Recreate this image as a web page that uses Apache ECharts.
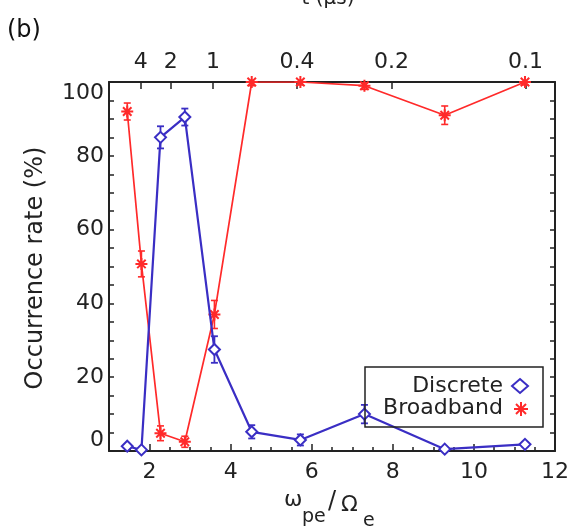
<!DOCTYPE html>
<html><head><meta charset="utf-8">
<script src="https://cdn.jsdelivr.net/npm/echarts@6/dist/echarts.min.js"></script>
<style>html,body{margin:0;padding:0;background:#fff}#c{width:572px;height:527px}</style>
</head><body><div id="c"></div>
<script>
// ---- data ----
const ratio = [1.45, 1.8, 2.27, 2.87, 3.6, 4.52, 5.72, 7.3, 9.28, 11.26];
const discrete = [1.3, 0.3, 85, 90.5, 27.5, 5.2, 3.0, 10, 0.5, 1.8];
const discreteErr = [0.5, 0.5, 3, 2.3, 3.6, 1.8, 1.5, 2.5, 0.5, 0.6];
const broadband = [92, 50.7, 4.8, 2.5, 37, 100, 100, 99, 91, 100];
const broadbandErr = [2.3, 3.5, 2, 1.5, 3.8, 1, 0.8, 1, 2.5, 0.8];
const xMajorTicks = [2, 4, 6, 8, 10, 12];
const tValues = [4, 2, 1, 0.4, 0.2, 0.1];
const tLabels = ['4', '2', '1', '0.4', '0.2', '0.1'];
const tConst = 12.7; // t = tConst / (wpe/Omega_e)^2
// ---------------

const FONT = 'DejaVu Sans';
const AX = '#222';
const BLUE = '#3a2ec4';
const RED = '#ff2a2a';
const tPos = tValues.map(t => Math.sqrt(tConst / t));
const tMap = {};
tPos.forEach((p, i) => { tMap[p.toFixed(5)] = tLabels[i]; });

const asteriskPath = 'path://M6,0L6,12M0,6L12,6M1.76,1.76L10.24,10.24M1.76,10.24L10.24,1.76';

function errSeries(vals, errs, color, width) {
  return {
    type: 'custom', xAxisIndex: 0, yAxisIndex: 0, z: 3, silent: true, clip: true,
    encode: { x: 0, y: 1 },
    data: ratio.map((x, i) => [x, vals[i], errs[i]]),
    renderItem(params, api) {
      const x = api.value(0), y = api.value(1), e = api.value(2);
      const p1 = api.coord([x, y + e]), p2 = api.coord([x, y - e]);
      const c = 3.5;
      const st = { stroke: color, lineWidth: width };
      return { type: 'group', children: [
        { type: 'line', shape: { x1: p1[0], y1: p1[1], x2: p2[0], y2: p2[1] }, style: st },
        { type: 'line', shape: { x1: p1[0] - c, y1: p1[1], x2: p1[0] + c, y2: p1[1] }, style: st },
        { type: 'line', shape: { x1: p2[0] - c, y1: p2[1], x2: p2[0] + c, y2: p2[1] }, style: st }
      ]};
    }
  };
}

const chart = echarts.init(document.getElementById('c'), null, { renderer: 'canvas' });
const labelStyle = { fontFamily: FONT, fontSize: 22, color: AX };

chart.setOption({
  animation: false,
  backgroundColor: '#fff',
  grid: { left: 109, right: 15, top: 82, bottom: 76, containLabel: false },
  xAxis: [
    { type: 'value', position: 'bottom', min: 1, max: 12, interval: 0.5,
      axisLine: { show: true, onZero: false, lineStyle: { color: AX, width: 2 } },
      axisTick: { show: true, inside: true, length: 4, lineStyle: { color: AX, width: 1.5 } },
      axisLabel: Object.assign({ margin: 10, formatter: v => (Math.abs(v % 2) < 1e-9 ? String(v) : '') }, labelStyle),
      splitLine: { show: false } },
    { type: 'value', position: 'bottom', min: 1, max: 12,
      axisLine: { show: false, onZero: false },
      axisTick: { show: true, inside: true, length: 7, customValues: xMajorTicks, lineStyle: { color: AX, width: 1.5 } },
      axisLabel: { show: false }, splitLine: { show: false } },
    { type: 'value', position: 'top', min: 1, max: 12,
      axisLine: { show: true, onZero: false, lineStyle: { color: AX, width: 2 } },
      axisTick: { show: true, inside: true, length: 7, customValues: tPos, lineStyle: { color: AX, width: 1.5 } },
      axisLabel: Object.assign({ margin: 9, customValues: tPos, formatter: v => tMap[Number(v).toFixed(5)] || '' }, labelStyle),
      splitLine: { show: false } }
  ],
  yAxis: [
    { type: 'value', position: 'left', min: 0, max: 100, interval: 5,
      axisLine: { show: true, onZero: false, lineStyle: { color: AX, width: 2 } },
      axisTick: { show: true, inside: true, length: 5, lineStyle: { color: AX, width: 1.5 } },
      axisLabel: Object.assign({ margin: 5, verticalAlignMinLabel: 'bottom', verticalAlignMaxLabel: 'top',
        formatter: v => (v % 20 === 0 ? String(v) : '') }, labelStyle),
      splitLine: { show: false } },
    { type: 'value', position: 'right', min: 0, max: 100, interval: 5,
      axisLine: { show: true, onZero: false, lineStyle: { color: AX, width: 2 } },
      axisTick: { show: true, inside: true, length: 5, lineStyle: { color: AX, width: 1.5 } },
      axisLabel: { show: false }, splitLine: { show: false } }
  ],
  series: [
    { name: 'Broadband', type: 'line', xAxisIndex: 0, yAxisIndex: 0, z: 2,
      data: ratio.map((x, i) => [x, broadband[i]]),
      lineStyle: { color: RED, width: 1.7 },
      symbol: asteriskPath, symbolSize: 12,
      itemStyle: { color: RED, borderColor: RED, borderWidth: 2 } },
    errSeries(broadband, broadbandErr, RED, 1.6),
    { name: 'Discrete', type: 'line', xAxisIndex: 0, yAxisIndex: 0, z: 4,
      data: ratio.map((x, i) => [x, discrete[i]]),
      lineStyle: { color: BLUE, width: 2.2 },
      symbol: 'emptyDiamond', symbolSize: 11,
      itemStyle: { color: BLUE, borderColor: BLUE, borderWidth: 2 } },
    errSeries(discrete, discreteErr, BLUE, 1.8)
  ],
  graphic: [
    { type: 'text', left: 7, top: 19, style: { text: '(b)', font: '24px ' + FONT, fill: '#111' } },
    { type: 'text', x: 328, y: -1, style: { text: 't (μs)', font: '20px ' + FONT, fill: AX, textAlign: 'center', textVerticalAlign: 'middle' } },
    { type: 'text', x: 36, y: 268, rotation: Math.PI / 2,
      style: { text: 'Occurrence rate (%)', font: '24px ' + FONT, fill: AX, textAlign: 'center', textVerticalAlign: 'middle' } },
    { type: 'text', x: 284, y: 500, style: { text: 'ω', font: '22px ' + FONT, fill: AX, textAlign: 'left', textVerticalAlign: 'middle' } },
    { type: 'text', x: 302, y: 517, style: { text: 'pe', font: '19px ' + FONT, fill: AX, textAlign: 'left', textVerticalAlign: 'middle' } },
    { type: 'text', x: 328, y: 502, style: { text: '/', font: '24px ' + FONT, fill: AX, textAlign: 'left', textVerticalAlign: 'middle' } },
    { type: 'text', x: 341, y: 505, style: { text: 'Ω', font: '22px ' + FONT, fill: AX, textAlign: 'left', textVerticalAlign: 'middle' } },
    { type: 'text', x: 363, y: 521, style: { text: 'e', font: '19px ' + FONT, fill: AX, textAlign: 'left', textVerticalAlign: 'middle' } },
    // legend
    { type: 'rect', z: 10, shape: { x: 365, y: 367, width: 178, height: 60 }, style: { fill: 'none', stroke: AX, lineWidth: 1.5 } },
    { type: 'text', x: 503, y: 386, z: 11, style: { text: 'Discrete', font: '22px ' + FONT, fill: AX, textAlign: 'right', textVerticalAlign: 'middle' } },
    { type: 'text', x: 503, y: 408, z: 11, style: { text: 'Broadband', font: '22px ' + FONT, fill: AX, textAlign: 'right', textVerticalAlign: 'middle' } },
    { type: 'polygon', z: 11, shape: { points: [[520, 379], [528, 386], [520, 393], [512, 386]] }, style: { fill: 'none', stroke: BLUE, lineWidth: 2 } },
    { type: 'line', z: 11, shape: { x1: 521, y1: 402, x2: 521, y2: 416 }, style: { stroke: RED, lineWidth: 2 } },
    { type: 'line', z: 11, shape: { x1: 514, y1: 409, x2: 528, y2: 409 }, style: { stroke: RED, lineWidth: 2 } },
    { type: 'line', z: 11, shape: { x1: 516, y1: 404, x2: 526, y2: 414 }, style: { stroke: RED, lineWidth: 2 } },
    { type: 'line', z: 11, shape: { x1: 516, y1: 414, x2: 526, y2: 404 }, style: { stroke: RED, lineWidth: 2 } }
  ]
});
</script></body></html>
